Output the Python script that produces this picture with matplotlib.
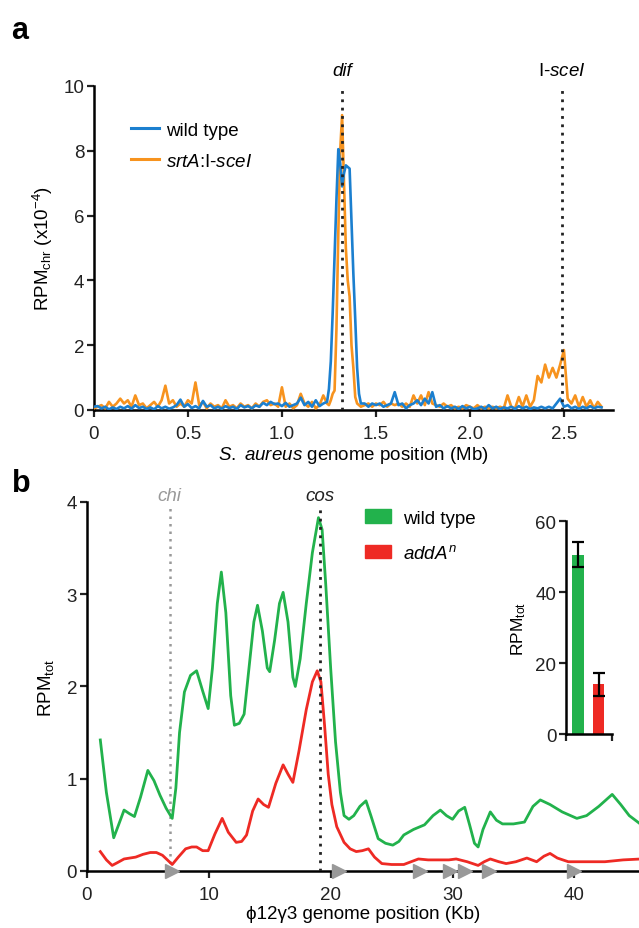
import numpy as np
import matplotlib
matplotlib.use("Agg")
import matplotlib.pyplot as plt
from matplotlib.lines import Line2D
from matplotlib.patches import Patch

plt.rcParams['font.family'] = ['Liberation Sans', 'DejaVu Sans']
plt.rcParams['mathtext.fontset'] = 'custom'
plt.rcParams['mathtext.rm'] = 'Liberation Sans'
plt.rcParams['mathtext.it'] = 'Liberation Sans:italic'
plt.rcParams['lines.solid_joinstyle'] = 'round'

# -----------------------------
# Panel a: chromosome coverage (Mb, RPM x10^-4)
pos_a = np.round(np.concatenate([np.arange(0, 1.23, 0.02),
                                 np.arange(1.24, 1.425, 0.01),
                                 np.arange(1.44, 2.71, 0.02)]), 3)

wt_a = [0.1, 0.12, 0.05, 0.1, 0.02, 0.08, 0.03, 0.1, 0.05, 0.12,
        0.04, 0.15, 0.06, 0.1, 0.03, 0.08, 0.02, 0.12, 0.05, 0.1,
        0.04, 0.08, 0.15, 0.32, 0.1, 0.18, 0.06, 0.12, 0.05, 0.28,
        0.1, 0.15, 0.05, 0.1, 0.04, 0.12, 0.06, 0.1, 0.03, 0.15,
        0.08, 0.12, 0.05, 0.14, 0.1, 0.22, 0.15, 0.25, 0.18, 0.2,
        0.12, 0.22, 0.1, 0.15, 0.2, 0.38, 0.15, 0.25, 0.1, 0.3,
        0.12, 0.2,
        # peak at dif
        0.25, 0.65, 1.5, 3.0, 4.8, 6.5, 8.05, 7.6, 6.9, 7.3,
        7.55, 7.5, 7.45, 5.8, 4.2, 2.8, 1.3, 0.5, 0.2,
        0.2, 0.1, 0.2, 0.15, 0.2, 0.1, 0.15, 0.2, 0.55, 0.15,
        0.2, 0.05, 0.15, 0.2, 0.3, 0.15, 0.35, 0.2, 0.55, 0.1,
        0.15, 0.05, 0.12, 0.05, 0.1, 0.03, 0.12, 0.05, 0.1, 0.02,
        0.05, 0.1, 0.03, 0.15, 0.05, 0.1, 0.03, 0.08, 0.05, 0.1,
        0.03, 0.12, 0.05, 0.1, 0.03, 0.08, 0.05, 0.1, 0.05, 0.1,
        0.05, 0.2, 0.35, 0.1, 0.15, 0.05, 0.1, 0.03, 0.1, 0.05,
        0.12, 0.05, 0.1, 0.08]

srta_a = [0.05, 0.1, 0.15, 0.05, 0.25, 0.1, 0.2, 0.35, 0.2, 0.3,
          0.1, 0.45, 0.15, 0.2, 0.05, 0.15, 0.25, 0.1, 0.3, 0.75,
          0.2, 0.3, 0.1, 0.2, 0.1, 0.3, 0.2, 0.85, 0.15, 0.25,
          0.05, 0.2, 0.1, 0.15, 0.05, 0.3, 0.1, 0.15, 0.05, 0.2,
          0.1, 0.15, 0.05, 0.2, 0.1, 0.25, 0.3, 0.15, 0.2, 0.1,
          0.7, 0.1, 0.2, 0.05, 0.15, 0.5, 0.2, 0.1, 0.25, 0.05,
          0.15, 0.45,
          # peak at dif
          0.2, 0.15, 0.3, 0.5, 0.6, 2.5, 5.5, 8.0, 9.1, 7.0,
          5.0, 4.0, 3.5, 2.0, 1.3, 0.4, 0.2, 0.15, 0.1,
          0.15, 0.2, 0.1, 0.2, 0.15, 0.25, 0.1, 0.2, 0.15, 0.2,
          0.1, 0.2, 0.1, 0.45, 0.2, 0.45, 0.15, 0.55, 0.2, 0.15,
          0.1, 0.2, 0.1, 0.15, 0.05, 0.1, 0.05, 0.15, 0.1, 0.05,
          0.15, 0.05, 0.1, 0.05, 0.1, 0.05, 0.1, 0.05, 0.45, 0.1,
          0.05, 0.4, 0.1, 0.45, 0.1, 0.3, 1.05, 0.85, 1.4, 1.0,
          1.3, 1.0, 1.4, 1.85, 0.35, 0.2, 0.45, 0.1, 0.4, 0.1,
          0.3, 0.05, 0.25, 0.1]

dif_pos = 1.32
scei_pos = 2.49

# -----------------------------
# Panel b: phage coverage (Kb, RPM tot)
wt_b_x = [1.1, 1.6, 2.2, 2.6, 3.05, 3.5, 3.9, 4.4, 5.0, 5.5, 6.0, 6.5, 7.0,
          7.3, 7.6, 8.0, 8.5, 9.0, 9.5, 9.95, 10.3, 10.7, 11.03, 11.4, 11.8,
          12.1, 12.5, 12.9, 13.3, 13.7, 14.0, 14.4, 14.8, 15.0, 15.4, 15.8,
          16.1, 16.5, 16.9, 17.1, 17.5, 18.0, 18.5, 19.0, 19.3, 19.6, 20.0,
          20.4, 20.8, 21.1, 21.5, 21.9, 22.4, 22.9, 23.3, 23.9, 24.5, 25.1,
          25.6, 26.0, 26.8, 27.7, 28.4, 29.0, 29.5, 30.0, 30.5, 31.0, 31.4,
          31.8, 32.1, 32.5, 33.1, 33.6, 34.1, 35.0, 35.9, 36.6, 37.2, 38.0,
          39.0, 40.2, 41.0, 42.0, 43.1, 43.8, 44.5, 45.5]
wt_b_y = [1.42, 0.85, 0.36, 0.5, 0.66, 0.62, 0.59, 0.8, 1.09, 0.98, 0.82, 0.68,
          0.57, 0.9, 1.5, 1.94, 2.12, 2.17, 1.95, 1.76, 2.2, 2.9, 3.24, 2.8,
          1.9, 1.58, 1.6, 1.7, 2.2, 2.7, 2.88, 2.6, 2.2, 2.16, 2.5, 2.9,
          3.02, 2.7, 2.1, 2.0, 2.3, 2.9, 3.45, 3.83, 3.7, 3.1, 2.2,
          1.4, 0.85, 0.6, 0.56, 0.6, 0.7, 0.76, 0.6, 0.35, 0.3, 0.28,
          0.32, 0.39, 0.45, 0.5, 0.6, 0.66, 0.6, 0.56, 0.65, 0.69, 0.5,
          0.3, 0.26, 0.45, 0.64, 0.55, 0.51, 0.51, 0.53, 0.7, 0.77, 0.72,
          0.64, 0.57, 0.6, 0.7, 0.83, 0.72, 0.6, 0.5]

add_b_x = [1.1, 1.6, 2.07, 2.5, 3.05, 4.0, 4.6, 5.2, 5.7, 6.2, 6.6, 7.0, 7.5,
           8.1, 8.6, 9.0, 9.5, 9.95, 10.5, 11.1, 11.6, 12.25, 12.7, 13.1,
           13.6, 14.05, 14.5, 14.9, 15.5, 16.1, 16.5, 16.9, 17.4, 18.0, 18.5,
           18.9, 19.2, 19.5, 19.8, 20.1, 20.5, 21.1, 21.6, 22.1, 22.6, 23.1,
           23.6, 24.2, 25.0, 26.0, 26.6, 27.2, 28.0, 29.0, 29.7, 30.3, 31.2,
           32.1, 32.6, 33.1, 33.8, 34.4, 35.2, 36.1, 36.5, 36.9, 37.5, 38.0,
           38.6, 39.5, 41.0, 42.5, 44.0, 45.5]
add_b_y = [0.21, 0.12, 0.06, 0.09, 0.13, 0.15, 0.18, 0.2, 0.2, 0.17, 0.12, 0.07,
           0.15, 0.24, 0.26, 0.26, 0.22, 0.22, 0.4, 0.57, 0.42, 0.31, 0.32,
           0.39, 0.65, 0.78, 0.72, 0.69, 0.95, 1.15, 1.05, 0.96, 1.3, 1.75,
           2.05, 2.17, 2.05, 1.58, 1.05, 0.72, 0.48, 0.31, 0.24, 0.21, 0.22,
           0.24, 0.15, 0.08, 0.07, 0.07, 0.1, 0.13, 0.12, 0.12, 0.12, 0.13,
           0.1, 0.06, 0.1, 0.13, 0.1, 0.08, 0.1, 0.14, 0.12, 0.1, 0.16, 0.19,
           0.14, 0.1, 0.1, 0.1, 0.12, 0.13]

chi_pos = 6.8
cos_pos = 19.1
chi_sites = [7.0, 20.7, 27.3, 29.8, 31.0, 33.0, 40.0]

# Inset bars
bar_labels = ['wild type', 'addA']
bar_vals = [50.3, 14.2]
bar_lo = [47.0, 10.8]
bar_hi = [54.0, 17.2]

blue = '#1b7fcf'
orange = '#f7931e'
green = '#22b24c'
red = '#ee2a24'

fig = plt.figure(figsize=(6.39, 9.29), dpi=100)

def style(ax):
    for s in ['top', 'right']:
        ax.spines[s].set_visible(False)
    for s in ['left', 'bottom']:
        ax.spines[s].set_linewidth(1.8)
    ax.tick_params(direction='out', length=5, width=1.6, labelsize=13.5,
                   colors='#222222', pad=2)
    ax.tick_params(axis='x', pad=6)

# ---- panel a
ax1 = fig.add_axes([0.147, 0.5576, 0.812, 0.3488])
style(ax1)
ax1.plot(pos_a, srta_a, color=orange, lw=1.9, zorder=3)
ax1.plot(pos_a, wt_a, color=blue, lw=1.9, zorder=4)
for p in [dif_pos, scei_pos]:
    ax1.plot([p, p], [0, 9.9], color='#222222', lw=2, ls=(0, (1, 2)), zorder=5)
ax1.text(dif_pos, 10.2, 'dif', style='italic', fontsize=13.5, ha='center', va='bottom')
ax1.text(scei_pos, 10.2, 'I-$\\it{sceI}$', fontsize=13.5, ha='center', va='bottom')
ax1.set_xlim(0, 2.76)
ax1.set_ylim(0, 10)
ax1.set_xticks([0, 0.5, 1.0, 1.5, 2.0, 2.5])
ax1.set_xticklabels(['0', '0.5', '1.0', '1.5', '2.0', '2.5'])
ax1.set_yticks([0, 2, 4, 6, 8, 10])
ax1.set_xlabel('$\\it{S.\\ aureus}$ genome position (Mb)', fontsize=13.5, labelpad=1)
ax1.set_ylabel('RPM$_{\\rm chr}$ (x10$^{-4}$)', fontsize=13.5, labelpad=6)
h1 = [Line2D([], [], color=blue, lw=2.2), Line2D([], [], color=orange, lw=2.2)]
ax1.legend(h1, ['wild type', '$\\it{srtA}$:I-$\\it{sceI}$'], loc='upper left',
           bbox_to_anchor=(0.205, 0.868), bbox_transform=fig.transFigure,
           frameon=False, fontsize=13.5, handlelength=1.5, handletextpad=0.35,
           labelspacing=0.75, borderpad=0, borderaxespad=0)

# ---- panel b
ax2 = fig.add_axes([0.136, 0.0614, 0.864, 0.3972])
style(ax2)
ax2.plot(wt_b_x, wt_b_y, color=green, lw=2, zorder=3)
ax2.plot(add_b_x, add_b_y, color=red, lw=2, zorder=4)
ax2.plot([chi_pos, chi_pos], [0, 3.95], color='#999999', lw=1.8, ls=(0, (1, 2)), zorder=2)
ax2.plot([cos_pos, cos_pos], [0, 3.95], color='#222222', lw=2, ls=(0, (1, 2)), zorder=5)
ax2.text(chi_pos, 3.98, 'chi', style='italic', color='#999999', fontsize=13.5,
         ha='center', va='bottom')
ax2.text(cos_pos, 3.98, 'cos', style='italic', color='#222222', fontsize=13.5,
         ha='center', va='bottom')
ax2.plot(chi_sites, [0] * len(chi_sites), ls='none', marker='>', ms=10,
         color='#999999', clip_on=False, zorder=6)
ax2.set_xlim(0, 45.3)
ax2.set_ylim(0, 4)
ax2.set_xticks([0, 10, 20, 30, 40])
ax2.set_yticks([0, 1, 2, 3, 4])
ax2.set_xlabel('\u03d512\u03b33 genome position (Kb)', fontsize=13.5, labelpad=1)
ax2.set_ylabel('RPM$_{\\rm tot}$', fontsize=13.5, labelpad=8)
h2 = [Patch(color=green), Patch(color=red)]
ax2.legend(h2, ['wild type', '$\\it{addA^n}$'], loc='upper left',
           bbox_to_anchor=(0.571, 0.4505), bbox_transform=fig.transFigure,
           frameon=False, fontsize=13.5, handlelength=1.4, handleheight=0.7,
           handletextpad=0.65, labelspacing=0.95, borderpad=0, borderaxespad=0)

# ---- inset
ax3 = fig.add_axes([0.8858, 0.2088, 0.072, 0.2293])
style(ax3)
ax3.tick_params(axis='x', pad=2)
xb = np.arange(len(bar_vals))
err = [np.array(bar_vals) - np.array(bar_lo), np.array(bar_hi) - np.array(bar_vals)]
ax3.bar(xb, bar_vals, width=0.58, color=[green, red], zorder=2)
ax3.errorbar(xb, bar_vals, yerr=err, fmt='none', ecolor='black', elinewidth=1.6,
             capsize=4, capthick=1.6, zorder=3)
ax3.set_xlim(-0.585, 1.66)
ax3.set_ylim(0, 60)
ax3.set_xticks([-0.585, 1.66])
ax3.set_xticklabels([])
ax3.set_yticks([0, 20, 40, 60])
ax3.set_ylabel('RPM$_{\\rm tot}$', fontsize=12.5, labelpad=5)

fig.text(0.018, 0.967, 'a', fontsize=22, fontweight='bold', va='center')
fig.text(0.018, 0.479, 'b', fontsize=22, fontweight='bold', va='center')

fig.savefig('out.png', dpi=100)
